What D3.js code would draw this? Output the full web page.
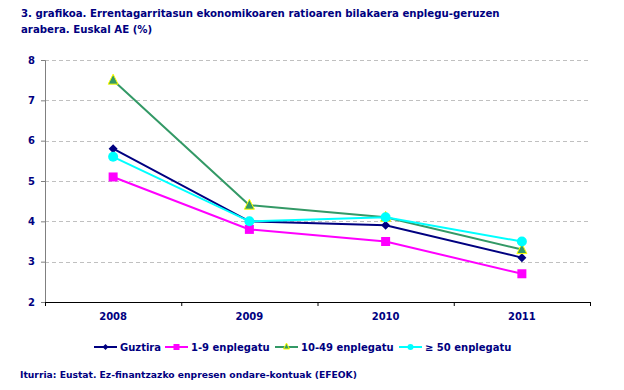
<!DOCTYPE html>
<html>
<head>
<meta charset="utf-8">
<script src="https://cdn.jsdelivr.net/npm/d3@7"></script>
<style>
  body { margin: 0; background: #fff; }
  text { font-family: "DejaVu Sans", Verdana, sans-serif; font-weight: bold; fill: #000080; }
</style>
</head>
<body>
<div id="vis"></div>
<script>
// Chart data
const YEARS = ["2008", "2009", "2010", "2011"];
const SERIES_NAMES = ["Guztira", "1-9 enplegatu", "10-49 enplegatu", "\u2265 50 enplegatu"];
const GUZTIRA = [5.8, 4.0, 3.9, 3.1];
const EMP_1_9 = [5.1, 3.8, 3.5, 2.7];
const EMP_10_49 = [7.5, 4.4, 4.1, 3.3];
const EMP_50 = [5.6, 4.0, 4.1, 3.5];
const Y_TICKS = [2, 3, 4, 5, 6, 7, 8];

const FRAME_WIDTH = 624;
const FRAME_HEIGHT = 390;
const MARGINS = {left: 45, right: 34, top: 60, bottom: 88};
const VIS_WIDTH = FRAME_WIDTH - MARGINS.left - MARGINS.right;
const VIS_HEIGHT = FRAME_HEIGHT - MARGINS.top - MARGINS.bottom;

const svg = d3.select("#vis")
  .append("svg")
    .attr("width", FRAME_WIDTH)
    .attr("height", FRAME_HEIGHT);

// Title
const title = svg.append("text")
  .attr("x", 21)
  .attr("y", 17)
  .style("font-size", "10.2px");
title.append("tspan").attr("x", 21).attr("dy", 0)
  .text("3. grafikoa. Errentagarritasun ekonomikoaren ratioaren bilakaera enplegu-geruzen");
title.append("tspan").attr("x", 21).attr("dy", 16)
  .text("arabera. Euskal AE (%)");

const X_SCALE = d3.scaleBand()
  .domain(YEARS)
  .range([0, VIS_WIDTH]);

const Y_SCALE = d3.scaleLinear()
  .domain([2, 8])
  .range([VIS_HEIGHT, 0]);

const g = svg.append("g")
  .attr("transform", "translate(" + MARGINS.left + "," + MARGINS.top + ")");

// Gridlines
g.append("g")
  .selectAll("line")
  .data(Y_TICKS.slice(1))
  .enter()
  .append("line")
    .attr("x1", 0)
    .attr("x2", VIS_WIDTH)
    .attr("y1", (d) => Math.round(Y_SCALE(d)) + 0.5)
    .attr("y2", (d) => Math.round(Y_SCALE(d)) + 0.5)
    .attr("stroke", "#c0c0c0")
    .attr("stroke-dasharray", "4,3");

// Y axis
const yAxis = g.append("g")
  .call(d3.axisLeft(Y_SCALE).tickValues(Y_TICKS).tickFormat(d3.format("d")).tickSize(4).tickPadding(6));
yAxis.select(".domain").attr("stroke", "#808080");
yAxis.selectAll(".tick line").attr("stroke", "#808080");
yAxis.selectAll("text")
  .style("font-size", "10px")
  .style("font-family", "DejaVu Sans, Verdana, sans-serif")
  .attr("fill", "#000080");

// X axis
const xAxis = g.append("g")
  .attr("transform", "translate(0," + VIS_HEIGHT + ")")
  .call(d3.axisBottom(X_SCALE).tickSize(0).tickPadding(11));
xAxis.select(".domain").attr("stroke", "#000");
xAxis.selectAll("text")
  .style("font-size", "10px")
  .style("font-family", "DejaVu Sans, Verdana, sans-serif")
  .attr("fill", "#000080");
// category boundary ticks
xAxis.append("g")
  .selectAll("line")
  .data(YEARS.map((d) => X_SCALE(d)).concat([VIS_WIDTH]))
  .enter()
  .append("line")
    .attr("x1", (d) => d + 0.5)
    .attr("x2", (d) => d + 0.5)
    .attr("y1", 0)
    .attr("y2", 4)
    .attr("stroke", "#000");

const series = [
  {name: SERIES_NAMES[0], values: GUZTIRA, color: "#000080", marker: "diamond"},
  {name: SERIES_NAMES[1], values: EMP_1_9, color: "#ff00ff", marker: "square"},
  {name: SERIES_NAMES[2], values: EMP_10_49, color: "#339966", marker: "triangle"},
  {name: SERIES_NAMES[3], values: EMP_50, color: "#00ffff", marker: "circle"}
];

const cx = (i) => X_SCALE(YEARS[i]) + X_SCALE.bandwidth() / 2;

const line = d3.line()
  .x((d, i) => cx(i))
  .y((d) => Y_SCALE(d));

function drawMarker(sel, type, color, x, y, size) {
  const h = size / 2;
  if (type === "diamond") {
    sel.append("path")
      .attr("d", "M" + x + "," + (y - h) + "L" + (x + h) + "," + y + "L" + x + "," + (y + h) + "L" + (x - h) + "," + y + "Z")
      .attr("fill", color);
  } else if (type === "square") {
    sel.append("rect")
      .attr("x", x - h).attr("y", y - h)
      .attr("width", size).attr("height", size)
      .attr("fill", color);
  } else if (type === "triangle") {
    sel.append("path")
      .attr("d", "M" + x + "," + (y - h - 1) + "L" + (x + h) + "," + (y + h - 1) + "L" + (x - h) + "," + (y + h - 1) + "Z")
      .attr("fill", color)
      .attr("stroke", "#ffff00")
      .attr("stroke-width", 1);
  } else {
    sel.append("circle")
      .attr("cx", x).attr("cy", y).attr("r", h)
      .attr("fill", color);
  }
}

// Lines and markers
series.forEach((s) => {
  g.append("path")
    .datum(s.values)
    .attr("d", line)
    .attr("fill", "none")
    .attr("stroke", s.color)
    .attr("stroke-width", 2);
});
const MARKER_SIZE = {diamond: 9, square: 9, triangle: 10, circle: 10};
series.forEach((s) => {
  const mg = g.append("g");
  s.values.forEach((v, i) => {
    drawMarker(mg, s.marker, s.color, cx(i), Y_SCALE(v), MARKER_SIZE[s.marker]);
  });
});

// Legend
const LEGEND_X = [94, 165, 275, 399];
const legend = svg.append("g").attr("transform", "translate(0,347)");
series.forEach((s, i) => {
  const lg = legend.append("g").attr("transform", "translate(" + LEGEND_X[i] + ",0)");
  lg.append("line")
    .attr("x1", 0).attr("x2", 23)
    .attr("y1", 0).attr("y2", 0)
    .attr("stroke", s.color)
    .attr("stroke-width", 2);
  drawMarker(lg, s.marker, s.color, 11.5, 0, 6);
  lg.append("text")
    .attr("x", 26)
    .attr("y", 4)
    .style("font-size", "10px")
    .text(s.name);
});

// Source
svg.append("text")
  .attr("x", 20)
  .attr("y", 378)
  .style("font-size", "9.2px")
  .text("Iturria: Eustat. Ez-finantzazko enpresen ondare-kontuak (EFEOK)");
</script>
</body>
</html>
